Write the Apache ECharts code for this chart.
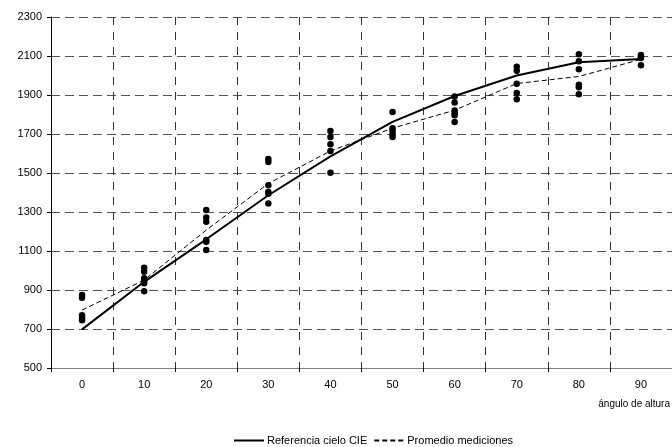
<!DOCTYPE html>
<html>
<head>
<meta charset="utf-8">
<script src="https://cdn.jsdelivr.net/npm/echarts@6/dist/echarts.min.js"></script>
<style>
html,body{margin:0;padding:0;background:#fff;}
#c{width:672px;height:447px;}
</style>
</head>
<body>
<div id="c"></div>
<script>
const categorias = ['0','10','20','30','40','50','60','70','80','90'];
const referenciaCIE = [698, 942, 1160, 1386, 1585, 1762, 1895, 2000, 2068, 2085];
const promedioMediciones = [797, 951, 1207, 1446, 1613, 1730, 1822, 1959, 1995, 2083];
const mediciones = [
  [875, 860, 770, 757, 745],
  [1014, 993, 960, 946, 934, 893],
  [1310, 1272, 1250, 1157, 1147, 1105],
  [1572, 1557, 1437, 1403, 1393, 1343],
  [1716, 1685, 1648, 1613, 1501],
  [1813, 1730, 1715, 1698, 1685],
  [1892, 1862, 1820, 1806, 1796, 1762],
  [2045, 2025, 1958, 1910, 1878],
  [2109, 2073, 2032, 1953, 1940, 1904],
  [2105, 2097, 2090, 2052]
];
const yTicks = {min: 500, max: 2300, interval: 200};

const puntos = [];
mediciones.forEach((vals, i) => vals.forEach(v => puntos.push([i, v])));

const FONT = 'Liberation Sans, Arial, sans-serif';
const chart = echarts.init(document.getElementById('c'), null, {renderer: 'canvas'});
chart.setOption({
  animation: false,
  backgroundColor: '#fff',
  grid: {left: 51, right: 0, top: 17, bottom: 79, containLabel: false},
  xAxis: {
    type: 'category',
    data: categorias,
    boundaryGap: true,
    axisLine: {show: true, lineStyle: {color: '#808080', width: 1}},
    axisTick: {show: true, length: 4, lineStyle: {color: '#000'}},
    axisLabel: {color: '#000', fontSize: 11, fontFamily: FONT, margin: 11},
    splitLine: {show: true, lineStyle: {color: '#333', type: [8, 7], width: 1}}
  },
  yAxis: {
    type: 'value',
    min: yTicks.min, max: yTicks.max, interval: yTicks.interval,
    axisLine: {show: true, lineStyle: {color: '#000', width: 1}},
    axisTick: {show: true, length: 4, lineStyle: {color: '#000'}},
    axisLabel: {color: '#000', fontSize: 11, fontFamily: FONT, margin: 9, formatter: v => String(v)},
    splitLine: {show: true, lineStyle: {color: '#555', type: [9, 5], width: 1}}
  },
  legend: {
    data: ['Referencia cielo CIE', 'Promedio mediciones'],
    left: 228, top: 430,
    itemWidth: 30, itemHeight: 10, itemGap: 6,
    itemStyle: {opacity: 0},
    textStyle: {color: '#000', fontSize: 11, fontFamily: FONT, padding: [0, 0, 0, -2]}
  },
  graphic: [{
    type: 'text', right: 2, top: 399,
    style: {text: 'ángulo de altura', fill: '#000', font: '10px ' + FONT}
  }],
  series: [
    {
      name: 'Mediciones', type: 'scatter', data: puntos,
      symbol: 'circle', symbolSize: 6.5,
      itemStyle: {color: '#000', opacity: 1}, z: 3
    },
    {
      name: 'Referencia cielo CIE', type: 'line', data: referenciaCIE,
      symbol: 'none', lineStyle: {color: '#000', width: 2, type: 'solid'},
      itemStyle: {color: '#000'}, z: 4
    },
    {
      name: 'Promedio mediciones', type: 'line', data: promedioMediciones,
      symbol: 'none', lineStyle: {color: '#000', width: 1, type: [5, 3]},
      itemStyle: {color: '#000'}, z: 4
    }
  ]
});
</script>
</body>
</html>
